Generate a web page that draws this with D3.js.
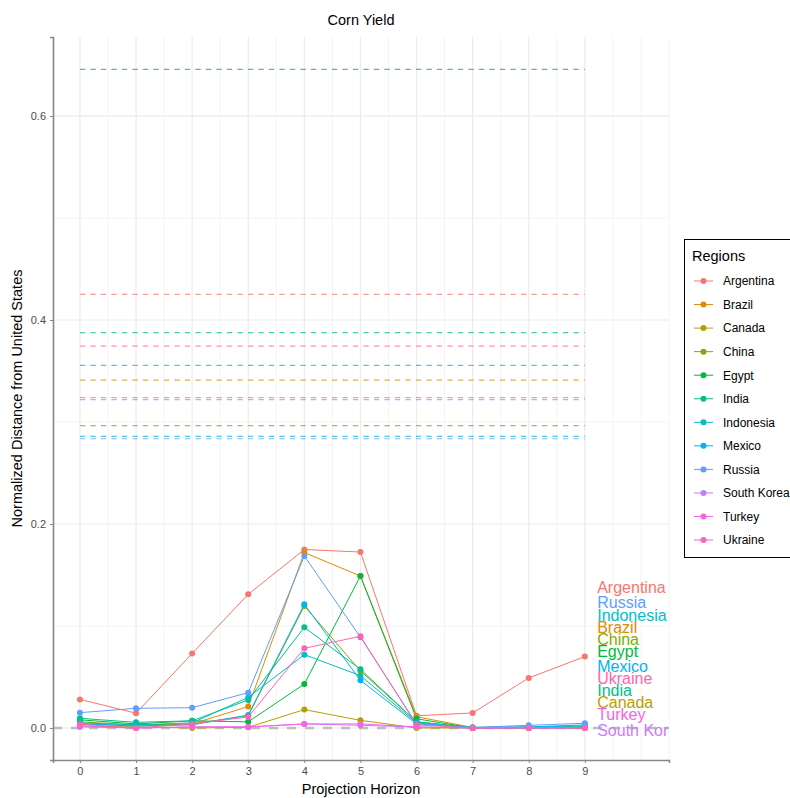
<!DOCTYPE html>
<html>
<head>
<meta charset="utf-8">
<script src="https://d3js.org/d3.v7.min.js"></script>
<style>
  body { margin: 0; background: #fff; }
  text { font-family: "Liberation Sans", Arial, sans-serif; }
</style>
</head>
<body>
<svg id="MAINSVG" width="790" height="798"></svg>
<script>
// ---- data ----
var regions = ["Argentina","Brazil","Canada","China","Egypt","India","Indonesia","Mexico","Russia","South Korea","Turkey","Ukraine"];
var colors = ["#F8766D","#DE8C00","#B79F00","#7CAE00","#00BA38","#00C08B","#00BFC4","#00B4F0","#619CFF","#C77CFF","#F564E3","#FF64B0"];
var horizons = [0,1,2,3,4,5,6,7,8,9];

var argentina  = [0.028, 0.0145, 0.073, 0.131, 0.175, 0.1725, 0.012, 0.0147, 0.049, 0.070];
var brazil     = [0.004, 0.002, 0.004, 0.021, 0.172, 0.149, 0.011, 0.0005, 0.0005, 0.001];
var canada     = [0.002, 0.001, 0.0, 0.0007, 0.018, 0.0075, 0.0, 0.0, 0.0, 0.0];
var china      = [0.006, 0.003, 0.004, 0.012, 0.1196, 0.0559, 0.006, 0.0005, 0.0005, 0.001];
var egypt      = [0.008, 0.004, 0.007, 0.006, 0.0431, 0.149, 0.009, 0.0, 0.0, 0.0];
var india      = [0.0095, 0.0055, 0.007, 0.0275, 0.0987, 0.0575, 0.006, 0.0, 0.0005, 0.001];
var indonesia  = [0.005, 0.003, 0.005, 0.030, 0.0719, 0.0513, 0.005, 0.0005, 0.001, 0.002];
var mexico     = [0.004, 0.002, 0.003, 0.0127, 0.1212, 0.0467, 0.004, 0.0005, 0.001, 0.003];
var russia     = [0.015, 0.0193, 0.0199, 0.0346, 0.1686, 0.089, 0.004, 0.0005, 0.0026, 0.0046];
var southkorea = [0.001, 0.0, 0.001, 0.001, 0.004, 0.0026, 0.001, 0.0, 0.0, 0.0];
var turkey     = [0.002, 0.0, 0.001, 0.001, 0.0039, 0.004, 0.001, 0.0, 0.0, 0.0];
var ukraine    = [0.0036, 0.0, 0.004, 0.0108, 0.0781, 0.0899, 0.003, 0.0, 0.0, 0.0];
var series = [argentina, brazil, canada, china, egypt, india, indonesia, mexico, russia, southkorea, turkey, ukraine];

// threshold (dashed) per region, Canada has none
var thresholds = [0.4252, 0.341, null, 0.2964, 0.6458, 0.3876, 0.286, 0.3556, 0.2836, 0.322, 0.324, 0.3745];

// end labels (repelled positions)
var labelY = [0.138, 0.099, 0.025, 0.087, 0.075, 0.037, 0.111, 0.061, 0.123, -0.002, 0.0137, 0.049];
var labelX = 9.22;

var yTicks = [0, 0.2, 0.4, 0.6];
var yMinor = [0.1, 0.3, 0.5];
var xMinor = [0.5,1.5,2.5,3.5,4.5,5.5,6.5,7.5,8.5,9.5,10,10.5];

// ---- layout ----
var SVG = d3.select("#MAINSVG");
var pLeft = 53, pRight = 669, pTop = 37, pBottom = 760;

var x = d3.scaleLinear().domain([-0.48, 10.5]).range([pLeft, pRight]);
var y = d3.scaleLinear().domain([-0.0314, 0.6775]).range([pBottom, pTop]);

SVG.append("defs").append("clipPath").attr("id","panel")
   .append("rect").attr("x",pLeft).attr("y",pTop).attr("width",pRight-pLeft).attr("height",pBottom-pTop);

// grid
SVG.selectAll(".yminor").data(yMinor).enter().append("line")
   .attr("x1",pLeft).attr("x2",pRight).attr("y1",d=>y(d)).attr("y2",d=>y(d))
   .attr("stroke","#f4f4f4").attr("stroke-width",1);
SVG.selectAll(".xminor").data(xMinor).enter().append("line")
   .attr("y1",pTop).attr("y2",pBottom).attr("x1",d=>x(d)).attr("x2",d=>x(d))
   .attr("stroke","#f4f4f4").attr("stroke-width",1);
SVG.selectAll(".ymajor").data(yTicks).enter().append("line")
   .attr("x1",pLeft).attr("x2",pRight).attr("y1",d=>y(d)).attr("y2",d=>y(d))
   .attr("stroke","#ebebeb").attr("stroke-width",1.2);
SVG.selectAll(".xmajor").data(horizons).enter().append("line")
   .attr("y1",pTop).attr("y2",pBottom).attr("x1",d=>x(d)).attr("x2",d=>x(d))
   .attr("stroke","#ebebeb").attr("stroke-width",1.2);

var panel = SVG.append("g").attr("clip-path","url(#panel)");

// zero reference line
panel.append("line")
   .attr("x1",pLeft).attr("x2",pRight).attr("y1",y(0)).attr("y2",y(0))
   .attr("stroke","#bdbdbd").attr("stroke-width",2.6).attr("stroke-dasharray","9,9");

// threshold lines
regions.forEach(function(r,i){
  if (thresholds[i] == null) return;
  panel.append("line")
     .attr("x1",x(0)).attr("x2",x(9))
     .attr("y1",y(thresholds[i])).attr("y2",y(thresholds[i]))
     .attr("stroke",colors[i]).attr("stroke-width",1.2)
     .attr("opacity",0.72)
     .attr("stroke-dasharray","5.3,5.2");
});

// series lines and points
var line = d3.line().x((d,j)=>x(horizons[j])).y(d=>y(d));
regions.forEach(function(r,i){
  panel.append("path")
     .attr("d",line(series[i]))
     .attr("fill","none").attr("stroke",colors[i]).attr("stroke-width",1);
});
regions.forEach(function(r,i){
  panel.selectAll(".pt"+i).data(series[i]).enter().append("circle")
     .attr("cx",(d,j)=>x(horizons[j])).attr("cy",d=>y(d))
     .attr("r",3).attr("fill",colors[i]);
});

// end labels
regions.forEach(function(r,i){
  panel.append("text")
     .attr("x",x(labelX)).attr("y",y(labelY[i]))
     .attr("dy","0.36em")
     .attr("fill",colors[i]).style("font-size","16px")
     .text(r);
});

// axes
var yAxis = SVG.append("g").attr("transform","translate("+pLeft+",0)")
   .call(d3.axisLeft(y).tickValues(yTicks).tickFormat(d3.format(".1f")).tickSize(3).tickPadding(4));
var xAxis = SVG.append("g").attr("transform","translate(0,"+pBottom+")")
   .call(d3.axisBottom(x).tickValues(horizons).tickFormat(d3.format("d")).tickSize(3).tickPadding(4));
[yAxis, xAxis].forEach(function(a){
  a.select(".domain").attr("stroke","#888").attr("stroke-width",1.6);
  a.selectAll(".tick line").attr("stroke","#888");
  a.selectAll(".tick text").attr("fill","#4d4d4d").style("font-size","11px")
   .style("font-family","'Liberation Sans', Arial, sans-serif");
});

// titles
SVG.append("text").attr("x",361).attr("y",25).attr("text-anchor","middle")
   .style("font-size","14.5px").attr("fill","#000").text("Corn Yield");
SVG.append("text").attr("x",361).attr("y",794).attr("text-anchor","middle")
   .style("font-size","14.5px").attr("fill","#000").text("Projection Horizon");
SVG.append("text").attr("transform","translate(22,"+((pTop+pBottom)/2)+") rotate(-90)")
   .attr("text-anchor","middle").style("font-size","14.5px").attr("fill","#000")
   .text("Normalized Distance from United States");

// legend
var lg = SVG.append("g");
lg.append("rect").attr("x",684.5).attr("y",239.5).attr("width",110).attr("height",318)
  .attr("fill","#fff").attr("stroke","#000").attr("stroke-width",1);
lg.append("text").attr("x",692).attr("y",261).style("font-size","14.5px").attr("fill","#000").text("Regions");
regions.forEach(function(r,i){
  var yy = 281 + i*23.55;
  lg.append("line").attr("x1",694).attr("x2",713).attr("y1",yy).attr("y2",yy)
    .attr("stroke",colors[i]).attr("stroke-width",1);
  lg.append("circle").attr("cx",703.5).attr("cy",yy).attr("r",3).attr("fill",colors[i]);
  lg.append("text").attr("x",723).attr("y",yy).attr("dy","0.36em")
    .style("font-size","12px").attr("fill","#000").text(r);
});
</script>
</body>
</html>
